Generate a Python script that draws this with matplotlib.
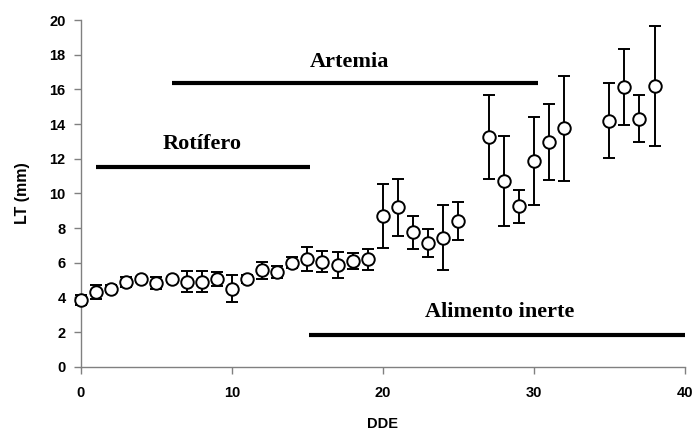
import matplotlib.pyplot as plt

# datos: dias despues de eclosion (DDE) y longitud total (LT)
dde = [0, 1, 2, 3, 4, 5, 6, 7, 8, 9, 10, 11, 12, 13, 14, 15, 16, 17, 18, 19,
       20, 21, 22, 23, 24, 25, 27, 28, 29, 30, 31, 32, 35, 36, 37, 38]
lt = [3.85, 4.3, 4.5, 4.9, 5.05, 4.85, 5.05, 4.9, 4.9, 5.05, 4.5, 5.05, 5.55, 5.45, 6.0,
      6.2, 6.05, 5.85, 6.1, 6.2,
      8.7, 9.2, 7.75, 7.15, 7.45, 8.4, 13.25, 10.7, 9.25, 11.85, 12.95, 13.75,
      14.2, 16.15, 14.3, 16.2]
err = [0.27, 0.42, 0.2, 0.3, 0.15, 0.35, 0.15, 0.62, 0.62, 0.4, 0.77, 0.25, 0.5, 0.35, 0.3,
       0.7, 0.6, 0.75, 0.45, 0.6,
       1.85, 1.65, 0.95, 0.8, 1.9, 1.1, 2.4, 2.6, 0.95, 2.55, 2.2, 3.05,
       2.15, 2.2, 1.35, 3.45]

# periodos de alimentacion: (etiqueta, inicio, fin, nivel, x texto, y texto)
periodos = [
    ("Rotífero", 1, 15.2, 11.55, 8.05, 12.85),
    ("Artemia", 6, 30.3, 16.35, 17.8, 17.6),
    ("Alimento inerte", 15.1, 40, 1.85, 27.75, 3.15),
]

plt.rcParams['font.family'] = ['Liberation Sans', 'DejaVu Sans']
plt.rcParams['font.weight'] = 'bold'
plt.rcParams['axes.labelweight'] = 'bold'

fig = plt.figure(figsize=(6.98, 4.36), dpi=100)
ax = fig.add_axes([0.116, 0.159, 0.865, 0.795])

ax.errorbar(dde, lt, yerr=err, fmt='o', color='black', mfc='white', mec='black',
            ms=9, mew=1.4, elinewidth=1.4, capsize=4.5, capthick=1.4, zorder=3,
            clip_on=False)

for nombre, x0, x1, y, xt, yt in periodos:
    ax.plot([x0, x1], [y, y], color='black', lw=3, solid_capstyle='butt')
    ax.text(xt, yt, nombre, ha='center', va='center', fontsize=16,
            fontweight='bold', family=['Liberation Serif', 'DejaVu Serif'])

ax.set_xlim(0, 40)
ax.set_ylim(0, 20)
ax.set_xticks([0, 10, 20, 30, 40])
ax.set_yticks(range(0, 21, 2))
ax.spines['top'].set_visible(False)
ax.spines['right'].set_visible(False)
for s in ['left', 'bottom']:
    ax.spines[s].set_color('#808080')
    ax.spines[s].set_linewidth(1)
ax.tick_params(axis='both', colors='#808080', labelcolor='black', length=5, width=1,
               labelsize=10.5)
ax.tick_params(axis='x', pad=9)
ax.tick_params(axis='y', pad=6)

ax.set_xlabel('DDE', fontsize=10.5, labelpad=12)
ax.set_ylabel('LT (mm)', fontsize=11.5, labelpad=14)

fig.savefig('out.png', dpi=100)
